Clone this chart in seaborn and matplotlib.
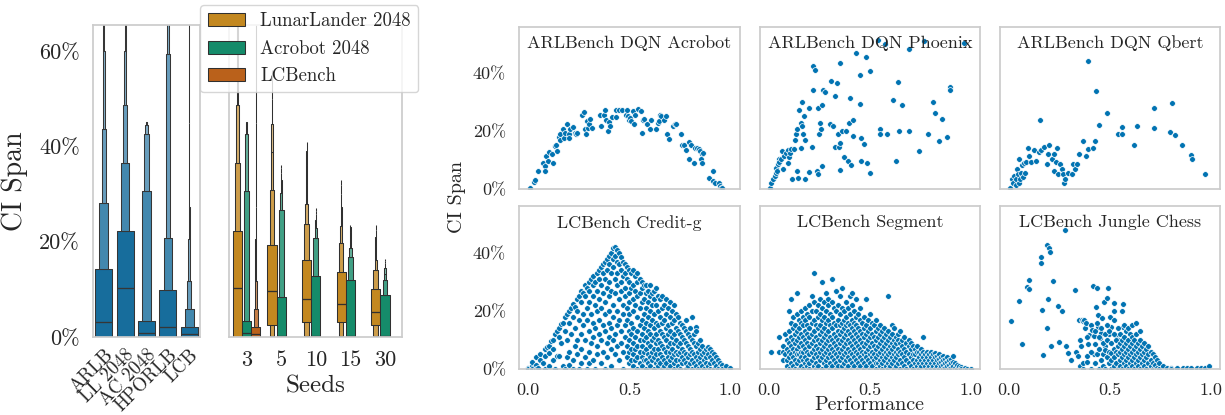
import numpy as np
import pandas as pd
import matplotlib
matplotlib.use("Agg")
import matplotlib.pyplot as plt
from matplotlib.ticker import PercentFormatter, FormatStrFormatter
import seaborn as sns

# ------------------------------------------------------------------ data
# Letter values (k = 7 levels).
# lower: 25%, 12.5%, 6.25%, ... ; upper: 75%, 87.5%, 93.75%, ...
LV_K = 7
bench_labels = ["ARLB", "LL 2048", "AC 2048", "HPORLB", "LCB"]
bench_median = [0.032, 0.102, 0.009, 0.0216, 0.006]
bench_lower = [[0.0] * 7, [0.0] * 7, [0.0] * 7, [0.0] * 7, [0.0] * 7]
bench_upper = [
    [0.142, 0.282, 0.436, 0.600, 0.72, 0.80, 0.85],
    [0.222, 0.366, 0.487, 0.600, 0.72, 0.80, 0.85],
    [0.0335, 0.306, 0.427, 0.444, 0.449, 0.451, 0.452],
    [0.098, 0.207, 0.594, 0.72, 0.80, 0.85, 0.90],
    [0.0216, 0.0586, 0.118, 0.205, 0.273, 0.45, 0.70],
]

seed_labels = ["3", "5", "10", "15", "30"]
seed_envs = ["LunarLander 2048", "Acrobot 2048", "LCBench"]
seed_group_seeds = ["3", "3", "3", "5", "5", "10", "10", "15", "15", "30", "30"]
seed_group_envs = ["LunarLander 2048", "Acrobot 2048", "LCBench",
                   "LunarLander 2048", "Acrobot 2048",
                   "LunarLander 2048", "Acrobot 2048",
                   "LunarLander 2048", "Acrobot 2048",
                   "LunarLander 2048", "Acrobot 2048"]
seed_median = [0.102, 0.009, 0.006, 0.096, 0.003, 0.080, 0.003, 0.069, 0.003, 0.052, 0.003]
seed_lower = [
    [0.0] * 7, [0.0] * 7, [0.0] * 7,
    [0.025, 0.002, 0, 0, 0, 0, 0], [0.0] * 7,
    [0.032, 0.003, 0, 0, 0, 0, 0], [0.0] * 7,
    [0.031, 0.003, 0, 0, 0, 0, 0], [0.0] * 7,
    [0.025, 0.003, 0, 0, 0, 0, 0], [0.0] * 7,
]
seed_upper = [
    [0.222, 0.366, 0.487, 0.600, 0.72, 0.80, 0.85],
    [0.0335, 0.306, 0.427, 0.444, 0.449, 0.451, 0.452],
    [0.0216, 0.0586, 0.118, 0.205, 0.273, 0.45, 0.70],
    [0.194, 0.308, 0.388, 0.446, 0.50, 0.54, 0.56],
    [0.0845, 0.266, 0.302, 0.329, 0.345, 0.355, 0.360],
    [0.161, 0.237, 0.280, 0.318, 0.36, 0.39, 0.41],
    [0.128, 0.208, 0.228, 0.245, 0.258, 0.265, 0.27],
    [0.137, 0.198, 0.232, 0.273, 0.30, 0.32, 0.329],
    [0.119, 0.168, 0.186, 0.205, 0.22, 0.23, 0.2345],
    [0.1005, 0.140, 0.161, 0.19, 0.21, 0.225, 0.2345],
    [0.088, 0.119, 0.133, 0.145, 0.155, 0.16, 0.163],
]

# Scatter panels: (performance, CI span)
acrobot = [(0.007,0.006),(0.028,0.026),(0.031,0.031),(0.049,0.063),(0.071,0.091),(0.081,0.080),(0.084,0.063),(0.087,0.114),(0.095,0.097),(0.103,0.128),(0.119,0.120),(0.122,0.091),(0.130,0.149),(0.135,0.154),(0.140,0.131),(0.151,0.181),(0.155,0.171),(0.159,0.189),(0.172,0.206),(0.175,0.177),(0.180,0.194),(0.191,0.223),(0.200,0.189),(0.203,0.177),(0.207,0.206),(0.222,0.215),(0.232,0.194),(0.235,0.189),(0.240,0.194),(0.267,0.257),(0.275,0.265),(0.280,0.206),(0.283,0.189),(0.288,0.234),(0.293,0.211),(0.299,0.223),(0.304,0.242),(0.315,0.211),(0.355,0.257),(0.360,0.219),(0.376,0.257),(0.381,0.274),(0.384,0.240),(0.392,0.200),(0.397,0.231),(0.405,0.219),(0.412,0.249),(0.432,0.249),(0.436,0.272),(0.448,0.272),(0.465,0.272),(0.481,0.257),(0.489,0.272),(0.492,0.251),(0.497,0.240),(0.501,0.246),(0.508,0.234),(0.521,0.223),(0.518,0.269),(0.530,0.257),(0.545,0.277),(0.556,0.269),(0.561,0.194),(0.566,0.240),(0.572,0.242),(0.585,0.223),(0.601,0.208),(0.606,0.240),(0.633,0.208),(0.640,0.229),(0.646,0.234),(0.653,0.257),(0.657,0.251),(0.670,0.240),(0.681,0.251),(0.685,0.189),(0.697,0.174),(0.717,0.219),(0.726,0.225),(0.733,0.226),(0.754,0.189),(0.762,0.154),(0.770,0.151),(0.781,0.135),(0.794,0.103),(0.797,0.162),(0.807,0.151),(0.818,0.091),(0.823,0.143),(0.834,0.143),(0.842,0.137),(0.850,0.131),(0.858,0.120),(0.855,0.103),(0.861,0.089),(0.866,0.126),(0.895,0.040),(0.914,0.063),(0.914,0.029),(0.925,0.023),(0.941,0.023),(0.946,0.011),(0.951,0.006),(0.958,0.006)]

phoenix = [(0.003,0.006),(0.011,0.021),(0.019,0.034),(0.027,0.046),(0.032,0.055),(0.035,0.074),(0.039,0.063),(0.043,0.086),(0.048,0.105),(0.051,0.094),(0.059,0.103),(0.064,0.131),(0.067,0.069),(0.076,0.114),(0.084,0.126),(0.092,0.135),(0.096,0.089),(0.100,0.112),(0.104,0.126),(0.108,0.139),(0.112,0.034),(0.124,0.137),(0.129,0.169),(0.135,0.189),(0.140,0.063),(0.140,0.206),(0.145,0.040),(0.148,0.274),(0.156,0.143),(0.156,0.229),(0.161,0.299),(0.164,0.217),(0.167,0.189),(0.172,0.251),(0.177,0.037),(0.180,0.169),(0.196,0.059),(0.199,0.280),(0.212,0.145),(0.215,0.423),(0.217,0.341),(0.228,0.411),(0.236,0.063),(0.241,0.051),(0.244,0.280),(0.247,0.189),(0.252,0.229),(0.257,0.206),(0.260,0.291),(0.263,0.080),(0.268,0.341),(0.276,0.334),(0.300,0.226),(0.305,0.374),(0.316,0.219),(0.324,0.322),(0.324,0.144),(0.337,0.366),(0.341,0.189),(0.344,0.145),(0.349,0.434),(0.353,0.158),(0.349,0.066),(0.360,0.199),(0.373,0.111),(0.381,0.200),(0.392,0.097),(0.397,0.229),(0.402,0.313),(0.405,0.083),(0.413,0.238),(0.413,0.183),(0.429,0.470),(0.450,0.394),(0.450,0.293),(0.453,0.177),(0.456,0.099),(0.469,0.157),(0.482,0.454),(0.485,0.091),(0.498,0.408),(0.501,0.055),(0.541,0.514),(0.549,0.209),(0.549,0.191),(0.573,0.499),(0.585,0.192),(0.614,0.306),(0.627,0.097),(0.638,0.368),(0.643,0.199),(0.659,0.289),(0.691,0.483),(0.691,0.199),(0.742,0.131),(0.766,0.509),(0.784,0.192),(0.810,0.299),(0.819,0.262),(0.839,0.166),(0.858,0.243),(0.879,0.181),(0.895,0.352),(0.895,0.341),(0.967,0.503)]

qbert = [(0.006,0.006),(0.016,0.037),(0.019,0.023),(0.024,0.046),(0.032,0.014),(0.035,0.037),(0.039,0.069),(0.043,0.051),(0.048,0.103),(0.051,0.023),(0.055,0.034),(0.059,0.057),(0.064,0.083),(0.071,0.043),(0.076,0.091),(0.080,0.057),(0.084,0.094),(0.092,0.143),(0.100,0.114),(0.108,0.094),(0.124,0.134),(0.132,0.097),(0.148,0.128),(0.153,0.240),(0.156,0.135),(0.172,0.145),(0.188,0.086),(0.191,0.122),(0.199,0.151),(0.212,0.103),(0.220,0.120),(0.223,0.063),(0.231,0.094),(0.239,0.143),(0.244,0.051),(0.252,0.086),(0.260,0.069),(0.268,0.051),(0.273,0.023),(0.279,0.034),(0.292,0.057),(0.312,0.054),(0.316,0.088),(0.328,0.071),(0.337,0.086),(0.344,0.122),(0.366,0.165),(0.381,0.114),(0.389,0.440),(0.392,0.137),(0.413,0.143),(0.424,0.165),(0.429,0.337),(0.447,0.221),(0.485,0.263),(0.541,0.192),(0.561,0.215),(0.561,0.192),(0.617,0.152),(0.633,0.217),(0.715,0.281),(0.715,0.210),(0.795,0.197),(0.806,0.298),(0.819,0.187),(0.855,0.154),(0.898,0.118),(0.903,0.105),(0.970,0.053)]

# dense panels: (performance, [CI spans at that performance])
credit_g_cols = [
    (0.00, [0.005, 0.0]), (0.02, [0.01, 0.025, 0.0]), (0.04, [0.04, 0.015, 0.0]), (0.05, [0.005]),
    (0.06, [0.05, 0.03]), (0.07, [0.02]), (0.08, [0.07, 0.045, 0.0]), (0.09, [0.075]),
    (0.10, [0.08, 0.055, 0.01]), (0.11, [0.095]), (0.12, [0.1, 0.07, 0.03]), (0.13, [0.12, 0.0]),
    (0.14, [0.13, 0.045]), (0.15, [0.14, 0.11, 0.045]), (0.16, [0.155, 0.09]), (0.17, [0.16, 0.01]),
    (0.18, [0.18, 0.13, 0.0]), (0.19, [0.19, 0.1, 0.04]), (0.20, [0.20, 0.16, 0.06, 0.015]),
    (0.21, [0.21, 0.12]), (0.22, [0.225, 0.18, 0.03, 0.0]), (0.23, [0.215, 0.14, 0.08]),
    (0.24, [0.24, 0.2, 0.1, 0.05]), (0.25, [0.25, 0.17, 0.0]), (0.26, [0.27, 0.23, 0.12, 0.07, 0.02]),
    (0.27, [0.26, 0.19, 0.15]), (0.28, [0.29, 0.25, 0.1, 0.04]), (0.29, [0.28, 0.21, 0.17, 0.0]),
    (0.30, [0.30, 0.27, 0.23, 0.13, 0.06, 0.02]), (0.31, [0.31, 0.19, 0.09]),
    (0.32, [0.32, 0.29, 0.25, 0.16, 0.11, 0.03]), (0.33, [0.30, 0.22, 0.14, 0.0]),
    (0.34, [0.33, 0.27, 0.2, 0.08, 0.05]), (0.35, [0.34, 0.31, 0.24, 0.17, 0.12]),
    (0.36, [0.35, 0.29, 0.21, 0.1, 0.02]), (0.37, [0.36, 0.33, 0.26, 0.15, 0.06]),
    (0.38, [0.37, 0.31, 0.23, 0.19, 0.13, 0.0]), (0.39, [0.38, 0.34, 0.28, 0.09, 0.04]),
    (0.40, [0.39, 0.36, 0.3, 0.25, 0.2, 0.16, 0.11]), (0.41, [0.40, 0.33, 0.27, 0.14, 0.07, 0.01]),
    (0.42, [0.415, 0.38, 0.35, 0.22, 0.18, 0.1]), (0.43, [0.42, 0.39, 0.31, 0.26, 0.12, 0.05]),
    (0.44, [0.41, 0.37, 0.33, 0.29, 0.2, 0.15, 0.08]), (0.45, [0.40, 0.36, 0.24, 0.17, 0.03]),
    (0.46, [0.385, 0.34, 0.3, 0.27, 0.13, 0.09]), (0.47, [0.37, 0.32, 0.22, 0.19, 0.06, 0.0]),
    (0.48, [0.36, 0.33, 0.28, 0.25, 0.15, 0.11]), (0.49, [0.35, 0.31, 0.21, 0.17, 0.08, 0.04]),
    (0.50, [0.34, 0.3, 0.26, 0.23, 0.19, 0.13, 0.1, 0.06, 0.02]),
    (0.51, [0.33, 0.28, 0.16, 0.12, 0.07, 0.03]),
    (0.52, [0.34, 0.29, 0.24, 0.2, 0.14, 0.09, 0.05, 0.01]),
    (0.53, [0.32, 0.27, 0.22, 0.11, 0.07, 0.03]),
    (0.54, [0.33, 0.3, 0.25, 0.18, 0.13, 0.08, 0.04, 0.0]),
    (0.55, [0.31, 0.26, 0.21, 0.15, 0.1, 0.06, 0.02]),
    (0.56, [0.3, 0.28, 0.23, 0.17, 0.12, 0.08, 0.04, 0.01]),
    (0.57, [0.29, 0.24, 0.19, 0.14, 0.1, 0.06, 0.03]),
    (0.58, [0.29, 0.26, 0.21, 0.16, 0.11, 0.07, 0.03, 0.0]),
    (0.59, [0.27, 0.23, 0.18, 0.13, 0.09, 0.05, 0.02]),
    (0.60, [0.29, 0.25, 0.2, 0.15, 0.12, 0.08, 0.04, 0.01]),
    (0.61, [0.26, 0.22, 0.17, 0.1, 0.06, 0.03]),
    (0.62, [0.27, 0.24, 0.19, 0.14, 0.11, 0.07, 0.04, 0.0]),
    (0.63, [0.28, 0.22, 0.16, 0.12, 0.09, 0.05, 0.02]),
    (0.64, [0.25, 0.2, 0.15, 0.1, 0.07, 0.03, 0.01]),
    (0.65, [0.24, 0.18, 0.13, 0.09, 0.05, 0.02]),
    (0.66, [0.25, 0.21, 0.16, 0.12, 0.08, 0.04, 0.0]),
    (0.67, [0.22, 0.17, 0.11, 0.07, 0.03, 0.01]),
    (0.68, [0.24, 0.19, 0.14, 0.1, 0.06, 0.02]),
    (0.69, [0.21, 0.15, 0.12, 0.08, 0.04, 0.0]),
    (0.70, [0.23, 0.18, 0.13, 0.09, 0.06, 0.03, 0.01]),
    (0.71, [0.2, 0.16, 0.11, 0.07, 0.04]),
    (0.72, [0.22, 0.17, 0.12, 0.09, 0.05, 0.02, 0.0]),
    (0.73, [0.19, 0.14, 0.1, 0.06, 0.03]),
    (0.74, [0.18, 0.13, 0.08, 0.05, 0.01]),
    (0.75, [0.16, 0.12, 0.09, 0.06, 0.03, 0.0]),
    (0.76, [0.15, 0.11, 0.07, 0.04, 0.02]),
    (0.77, [0.14, 0.1, 0.06, 0.03]),
    (0.78, [0.17, 0.13, 0.09, 0.05, 0.02, 0.0]),
    (0.79, [0.12, 0.08, 0.04, 0.01]),
    (0.80, [0.14, 0.11, 0.07, 0.05, 0.02]),
    (0.81, [0.178, 0.1, 0.06, 0.03, 0.0]),
    (0.82, [0.12, 0.09, 0.05, 0.02]),
    (0.83, [0.145, 0.13, 0.08, 0.04, 0.01]),
    (0.84, [0.09, 0.06, 0.03, 0.0]),
    (0.85, [0.1, 0.07, 0.04, 0.02]),
    (0.86, [0.08, 0.05, 0.01]), (0.87, [0.06, 0.03, 0.0]), (0.88, [0.07, 0.04, 0.02]),
    (0.89, [0.075, 0.05, 0.01]), (0.90, [0.07, 0.04, 0.02, 0.0]), (0.91, [0.06, 0.03]),
    (0.92, [0.05, 0.02, 0.0]), (0.93, [0.04, 0.01]), (0.94, [0.03, 0.0]), (0.95, [0.02]),
    (0.96, [0.015, 0.0]), (0.98, [0.01]), (1.0, [0.005]),
]

segment_cols = [
    (0.008, [0.058]), (0.05, [0.11, 0.06]), (0.07, [0.08, 0.06, 0.03]), (0.08, [0.12, 0.05]),
    (0.09, [0.10, 0.07, 0.03, 0.01]), (0.10, [0.2, 0.13, 0.09, 0.06, 0.04, 0.0]),
    (0.11, [0.24, 0.16, 0.11, 0.08, 0.05, 0.02]), (0.12, [0.18, 0.14, 0.1, 0.07, 0.04, 0.01]),
    (0.13, [0.15, 0.12, 0.09, 0.06, 0.03, 0.0]), (0.14, [0.26, 0.19, 0.13, 0.1, 0.07, 0.05, 0.02]),
    (0.15, [0.17, 0.14, 0.11, 0.08, 0.05, 0.03, 0.0]), (0.16, [0.2, 0.16, 0.12, 0.09, 0.06, 0.04, 0.01]),
    (0.17, [0.18, 0.15, 0.11, 0.08, 0.06, 0.03, 0.0]), (0.18, [0.21, 0.17, 0.13, 0.1, 0.07, 0.04, 0.02]),
    (0.19, [0.19, 0.15, 0.12, 0.09, 0.06, 0.03, 0.01]), (0.20, [0.22, 0.18, 0.14, 0.11, 0.08, 0.05, 0.02, 0.0]),
    (0.21, [0.25, 0.2, 0.16, 0.12, 0.09, 0.06, 0.03]), (0.22, [0.33, 0.23, 0.17, 0.13, 0.1, 0.07, 0.04, 0.01]),
    (0.23, [0.2, 0.15, 0.11, 0.08, 0.05, 0.02, 0.0]), (0.24, [0.22, 0.18, 0.14, 0.1, 0.07, 0.04, 0.01]),
    (0.25, [0.24, 0.19, 0.15, 0.12, 0.09, 0.06, 0.03]), (0.26, [0.30, 0.21, 0.17, 0.13, 0.1, 0.07, 0.04, 0.0]),
    (0.27, [0.23, 0.18, 0.14, 0.11, 0.08, 0.05, 0.02]), (0.28, [0.26, 0.2, 0.16, 0.12, 0.09, 0.06, 0.03, 0.01]),
    (0.29, [0.24, 0.22, 0.17, 0.13, 0.1, 0.07, 0.04]), (0.30, [0.19, 0.15, 0.11, 0.08, 0.05, 0.02, 0.0]),
    (0.31, [0.31, 0.23, 0.18, 0.14, 0.1, 0.07, 0.04, 0.01]), (0.32, [0.21, 0.16, 0.12, 0.09, 0.06, 0.03]),
    (0.33, [0.27, 0.2, 0.15, 0.11, 0.08, 0.05, 0.02, 0.0]), (0.34, [0.22, 0.17, 0.13, 0.1, 0.07, 0.04, 0.01]),
    (0.35, [0.25, 0.19, 0.15, 0.12, 0.09, 0.06, 0.03]), (0.36, [0.28, 0.21, 0.16, 0.13, 0.1, 0.07, 0.04, 0.01]),
    (0.37, [0.2, 0.17, 0.14, 0.11, 0.08, 0.05, 0.02]), (0.38, [0.23, 0.18, 0.15, 0.12, 0.09, 0.06, 0.03, 0.0]),
    (0.39, [0.21, 0.16, 0.13, 0.1, 0.07, 0.04, 0.01]), (0.40, [0.25, 0.19, 0.15, 0.12, 0.09, 0.06, 0.03]),
    (0.41, [0.26, 0.22, 0.17, 0.14, 0.11, 0.08, 0.05, 0.02, 0.0]), (0.42, [0.2, 0.16, 0.13, 0.1, 0.07, 0.04, 0.01]),
    (0.43, [0.24, 0.18, 0.15, 0.12, 0.09, 0.06, 0.03]), (0.44, [0.19, 0.14, 0.11, 0.08, 0.05, 0.02, 0.0]),
    (0.45, [0.21, 0.17, 0.13, 0.1, 0.07, 0.04, 0.01]), (0.46, [0.16, 0.12, 0.09, 0.06, 0.03]),
    (0.47, [0.18, 0.14, 0.11, 0.08, 0.05, 0.02, 0.0]), (0.48, [0.24, 0.15, 0.12, 0.09, 0.06, 0.04, 0.01]),
    (0.49, [0.17, 0.13, 0.1, 0.07, 0.03]), (0.50, [0.19, 0.14, 0.11, 0.08, 0.05, 0.02, 0.0]),
    (0.51, [0.16, 0.12, 0.09, 0.06, 0.04, 0.01]), (0.52, [0.15, 0.11, 0.08, 0.05, 0.03]),
    (0.53, [0.17, 0.13, 0.1, 0.07, 0.04, 0.02, 0.0]), (0.54, [0.14, 0.11, 0.08, 0.05, 0.02]),
    (0.55, [0.15, 0.12, 0.09, 0.06, 0.03, 0.01]), (0.56, [0.13, 0.1, 0.07, 0.04, 0.02, 0.0]),
    (0.57, [0.14, 0.11, 0.08, 0.05, 0.03]), (0.58, [0.12, 0.09, 0.06, 0.04, 0.01]),
    (0.59, [0.25, 0.13, 0.1, 0.07, 0.05, 0.02, 0.0]), (0.60, [0.11, 0.08, 0.06, 0.03, 0.01]),
    (0.61, [0.15, 0.12, 0.09, 0.07, 0.04, 0.02]), (0.62, [0.14, 0.1, 0.08, 0.05, 0.03, 0.0]),
    (0.63, [0.11, 0.09, 0.06, 0.04, 0.01]), (0.64, [0.12, 0.1, 0.07, 0.05, 0.02]),
    (0.65, [0.13, 0.09, 0.06, 0.03, 0.0]), (0.66, [0.1, 0.08, 0.05, 0.02]),
    (0.67, [0.11, 0.07, 0.04, 0.01]), (0.68, [0.09, 0.06, 0.03, 0.0]),
    (0.69, [0.1, 0.08, 0.05, 0.02]), (0.70, [0.09, 0.07, 0.04, 0.01]),
    (0.71, [0.08, 0.05, 0.03, 0.0]), (0.72, [0.07, 0.05, 0.02]), (0.73, [0.08, 0.06, 0.03, 0.01]),
    (0.74, [0.06, 0.04, 0.02, 0.0]), (0.75, [0.07, 0.05, 0.03, 0.01]), (0.76, [0.11, 0.06, 0.04, 0.02]),
    (0.77, [0.05, 0.03, 0.01]), (0.78, [0.06, 0.04, 0.02, 0.0]), (0.79, [0.05, 0.03, 0.01]),
    (0.80, [0.06, 0.04, 0.02, 0.0]), (0.81, [0.05, 0.03, 0.01]), (0.82, [0.055, 0.04, 0.02, 0.0]),
    (0.83, [0.045, 0.03, 0.01]), (0.84, [0.05, 0.035, 0.02, 0.0]), (0.85, [0.04, 0.025, 0.01]),
    (0.86, [0.045, 0.03, 0.015, 0.0]), (0.87, [0.035, 0.02, 0.005]), (0.88, [0.04, 0.025, 0.01]),
    (0.89, [0.03, 0.015, 0.0]), (0.90, [0.035, 0.02, 0.005]), (0.91, [0.045, 0.025, 0.01]),
    (0.92, [0.02, 0.005]), (0.93, [0.015, 0.0]), (0.94, [0.01]), (0.95, [0.008, 0.0]),
    (0.97, [0.005]), (0.98, [0.0]), (1.0, [0.0]),
]

jungle_sparse = [(0.008,0.166),(0.050,0.235),(0.063,0.085),(0.091,0.282),(0.099,0.305),(0.101,0.275),(0.157,0.366),(0.160,0.385),(0.165,0.202),(0.167,0.049),(0.187,0.142),(0.190,0.427),(0.195,0.240),(0.198,0.416),(0.203,0.402),(0.207,0.079),(0.215,0.302),(0.243,0.218),(0.246,0.094),(0.260,0.201),(0.279,0.480),(0.283,0.079),(0.294,0.056),(0.306,0.031),(0.327,0.271),(0.329,0.059),(0.339,0.045),(0.347,0.170),(0.349,0.099),(0.352,0.010),(0.355,0.080),(0.360,0.168),(0.366,0.167),(0.372,0.168),(0.377,0.141),(0.380,0.160),(0.385,0.045),(0.392,0.085),(0.398,0.117),(0.405,0.150),(0.410,0.134),(0.415,0.287),(0.418,0.051),(0.421,0.113),(0.431,0.213),(0.435,0.279),(0.438,0.187),(0.441,0.144),(0.448,0.107),(0.455,0.125),(0.458,0.176),(0.471,0.229),(0.474,0.080),(0.484,0.245),(0.491,0.278),(0.494,0.119),(0.501,0.178),(0.504,0.145),(0.517,0.199),(0.521,0.226),(0.526,0.054),(0.529,0.113),(0.537,0.023),(0.540,0.099),(0.550,0.080),(0.562,0.225),(0.562,0.145)]
jungle_cols = [
    (0.365, [0.02, 0.0]), (0.385, [0.11, 0.025]), (0.405, [0.06, 0.0]), (0.425, [0.13, 0.085, 0.02]),
    (0.435, [0.16, 0.05]), (0.445, [0.11, 0.07, 0.0]), (0.455, [0.14, 0.03]), (0.465, [0.09, 0.05, 0.01]),
    (0.475, [0.12, 0.065, 0.0]), (0.485, [0.15, 0.1, 0.04]), (0.495, [0.13, 0.06, 0.02]),
    (0.505, [0.09, 0.055, 0.03, 0.0]), (0.52, [0.17, 0.12, 0.07, 0.04, 0.01]), (0.53, [0.1, 0.06, 0.02]),
    (0.54, [0.14, 0.08, 0.05, 0.0]), (0.55, [0.12, 0.09, 0.06, 0.03, 0.01]),
    (0.56, [0.2, 0.1, 0.07, 0.04, 0.0]), (0.57, [0.15, 0.11, 0.08, 0.05, 0.02]),
    (0.58, [0.13, 0.09, 0.06, 0.03, 0.01]), (0.59, [0.14, 0.1, 0.07, 0.04, 0.0]),
    (0.60, [0.12, 0.08, 0.05, 0.02]), (0.61, [0.15, 0.11, 0.09, 0.06, 0.03, 0.01]),
    (0.62, [0.1, 0.07, 0.04, 0.0]), (0.63, [0.16, 0.12, 0.08, 0.05, 0.02]),
    (0.64, [0.09, 0.06, 0.03, 0.01]), (0.65, [0.13, 0.1, 0.07, 0.04, 0.0]),
    (0.66, [0.08, 0.05, 0.02]), (0.67, [0.09, 0.06, 0.03, 0.01]), (0.68, [0.07, 0.04, 0.0]),
    (0.69, [0.08, 0.05, 0.02]), (0.70, [0.06, 0.03, 0.01]), (0.71, [0.05, 0.02, 0.0]),
    (0.72, [0.04, 0.015]), (0.73, [0.03, 0.005]), (0.74, [0.02, 0.0]), (0.76, [0.01]),
    (0.78, [0.005]), (0.80, [0.003, 0.0]), (0.83, [0.004]), (0.86, [0.002]), (0.88, [0.003]),
    (0.90, [0.002]), (0.93, [0.003]), (0.95, [0.002]), (0.97, [0.003]), (0.99, [0.01]),
]

panel_titles = ["ARLBench DQN Acrobot", "ARLBench DQN Phoenix", "ARLBench DQN Qbert",
                "LCBench Credit-g", "LCBench Segment", "LCBench Jungle Chess"]


def expand_cols(cols):
    return [(p, s) for p, spans in cols for s in spans]


panel_points = [acrobot, phoenix, qbert, expand_cols(credit_g_cols),
                expand_cols(segment_cols), jungle_sparse + expand_cols(jungle_cols)]


def letter_value_sample(lower, median, upper, n=4096):
    lo_p = 0.5 ** np.arange(2, LV_K + 2)
    p = np.concatenate([lo_p[::-1], [0.5], 1 - lo_p])
    v = np.concatenate([np.asarray(lower, float)[::-1], [median], np.asarray(upper, float)])
    idx = p * (n - 1)
    edges = np.concatenate([[0], np.round((idx[:-1] + idx[1:]) / 2).astype(int), [n]])
    return np.repeat(v, np.diff(edges))


# ------------------------------------------------------------------ style
sns.set_theme(style="whitegrid", palette="colorblind")
plt.rcParams.update({
    "font.family": ["cmr10", "DejaVu Serif"],
    "mathtext.fontset": "cm",
    "axes.formatter.use_mathtext": True,
    "axes.unicode_minus": False,
    "axes.grid": False,
})
cb = sns.color_palette("colorblind")

fig = plt.figure(figsize=(12.25, 4.15), dpi=100)
ax_b = fig.add_axes([0.0759, 0.188, 0.0873, 0.752])
ax_s = fig.add_axes([0.1872, 0.188, 0.1412, 0.752], sharey=ax_b)

# left: per benchmark
df_b = pd.DataFrame({
    "bench": np.concatenate([[b] * 4096 for b in bench_labels]),
    "span": np.concatenate([letter_value_sample(lo, me, up)
                            for lo, me, up in zip(bench_lower, bench_median, bench_upper)]),
})
sns.boxenplot(data=df_b, x="bench", y="span", order=bench_labels, color=cb[0],
              k_depth=LV_K, showfliers=False, width=0.8, ax=ax_b)

# middle: per number of seeds
df_s = pd.DataFrame({
    "seeds": np.concatenate([[s] * 4096 for s in seed_group_seeds]),
    "env": np.concatenate([[e] * 4096 for e in seed_group_envs]),
    "span": np.concatenate([letter_value_sample(lo, me, up)
                            for lo, me, up in zip(seed_lower, seed_median, seed_upper)]),
})
sns.boxenplot(data=df_s, x="seeds", y="span", hue="env", order=seed_labels,
              hue_order=seed_envs, palette=[cb[1], cb[2], cb[3]], dodge=True,
              k_depth=LV_K, showfliers=False, width=0.8, ax=ax_s)

ax_b.set_ylim(0, 0.655)
ax_b.yaxis.set_major_formatter(PercentFormatter(1.0, decimals=0))
ax_b.set_yticks([0, 0.2, 0.4, 0.6])
ax_b.tick_params(axis="y", labelsize=16)
ax_b.tick_params(axis="x", labelsize=13.5, pad=0.5)
ax_b.set_ylabel("CI Span", fontsize=20, labelpad=8)
ax_b.set_xlabel("")
plt.setp(ax_b.get_xticklabels(), rotation=45, ha="right", rotation_mode="anchor")

ax_s.tick_params(axis="y", labelleft=False)
ax_s.tick_params(axis="x", labelsize=16)
ax_s.set_ylabel("")
ax_s.set_xlabel("Seeds", fontsize=18)

old = ax_s.get_legend()
handles = old.legend_handles
labels = [t.get_text() for t in old.get_texts()]
old.remove()
ax_s.legend(handles, labels, loc="upper left", bbox_to_anchor=(-0.168, 1.064),
            borderaxespad=0, fontsize=13.5, frameon=True)

# right: scatter grid
col_left = [0.4239, 0.6204, 0.8163]
row_bottom = [0.5439, 0.1108]
for i, (title, pts) in enumerate(zip(panel_titles, panel_points)):
    r, c = divmod(i, 3)
    ax = fig.add_axes([col_left[c], row_bottom[r], 0.1798, 0.392])
    sns.scatterplot(x=[p for p, _ in pts], y=[s for _, s in pts], ax=ax, color=cb[0],
                    s=17, edgecolor="white", linewidth=0.5)
    ax.set_xlim(-0.045, 1.045)
    ax.set_ylim(0, 0.56)
    ax.set_xticks([0.0, 0.5, 1.0])
    ax.set_yticks([0.0, 0.2, 0.4])
    ax.xaxis.set_major_formatter(FormatStrFormatter("%.1f"))
    ax.yaxis.set_major_formatter(PercentFormatter(1.0, decimals=0))
    ax.tick_params(axis="both", labelsize=13)
    if c > 0:
        ax.tick_params(axis="y", labelleft=False)
    if r == 0:
        ax.tick_params(axis="x", labelbottom=False)
    ax.text(0.5, 0.9, title, transform=ax.transAxes, ha="center", va="center",
            fontsize=13, color="0.15")

fig.text(0.373, 0.525, "CI Span", rotation=90, ha="center", va="center", fontsize=14.5, color="0.15")
fig.text(0.710, 0.024, "Performance", ha="center", va="center", fontsize=14.5, color="0.15")

fig.savefig("out.png", dpi=100)
